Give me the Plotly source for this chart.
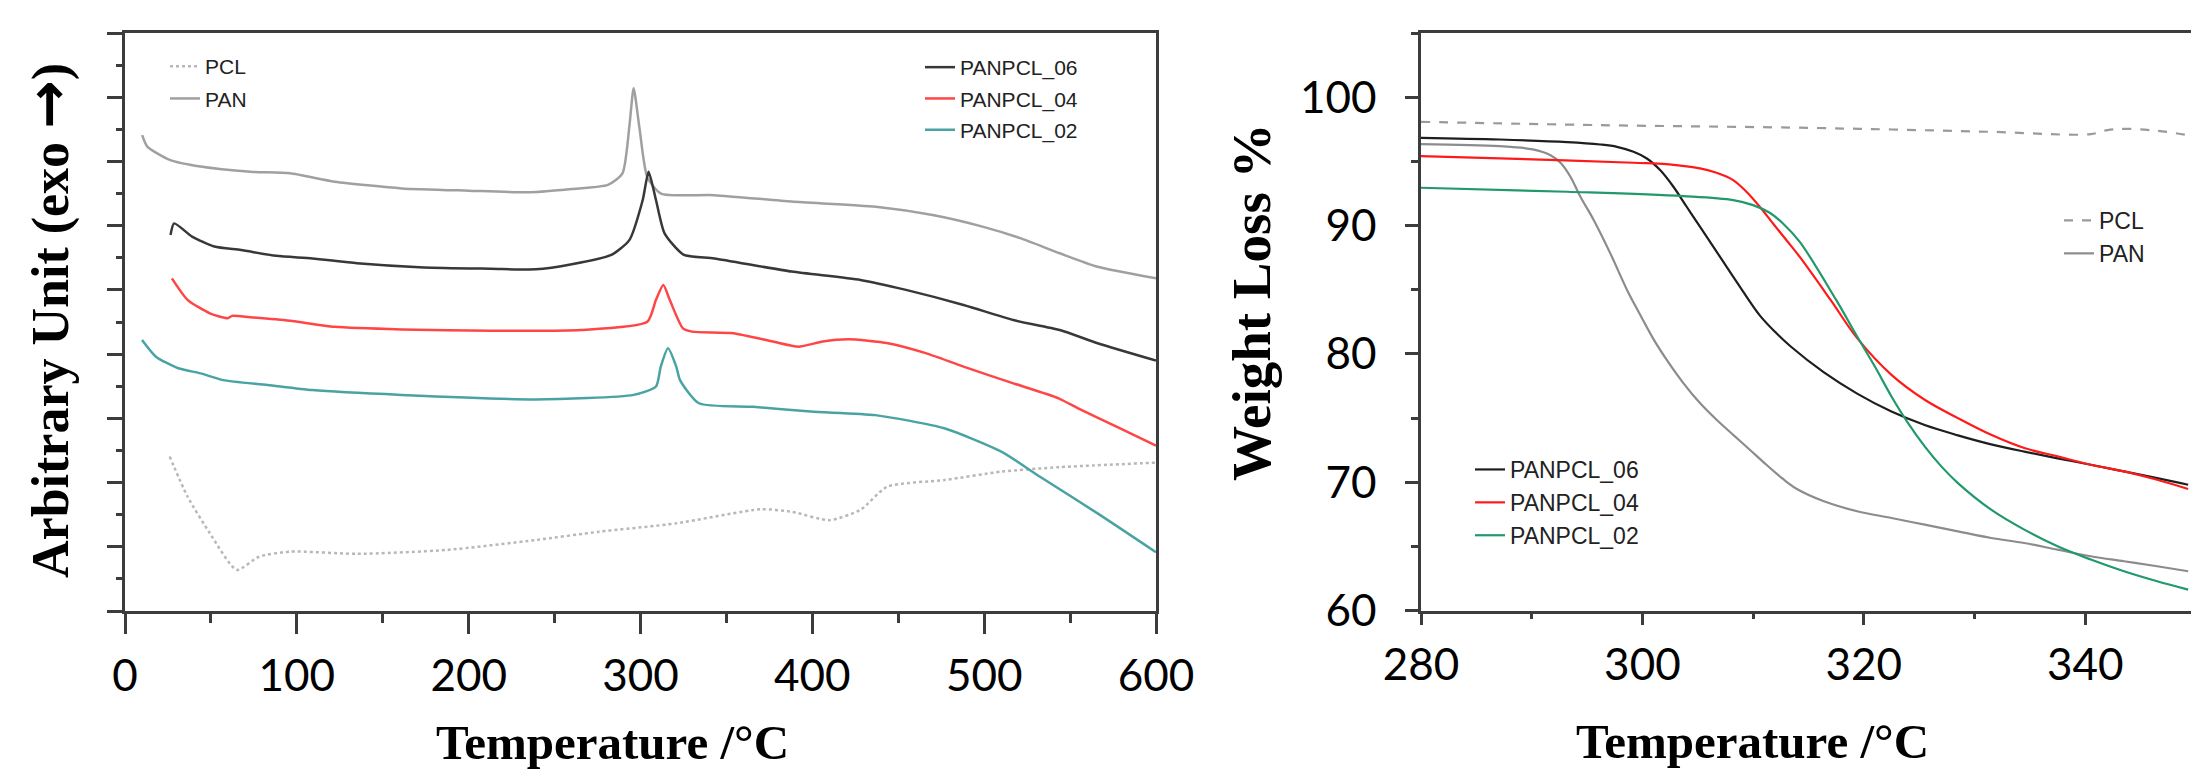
import plotly.graph_objects as go

# ---------------- Left panel (DSC) ----------------
dsc_pan_t = [10, 13, 26, 44, 73, 96, 122, 161, 200, 236, 260, 281, 289.5, 293.5, 296, 299.3, 304, 312, 343, 388, 437, 470, 499, 521, 544, 566, 600]
dsc_pan_v = [14.82, 14.46, 14.05, 13.84, 13.68, 13.63, 13.37, 13.16, 13.09, 13.04, 13.14, 13.27, 13.63, 15.08, 16.28, 15.08, 13.5, 13.0, 12.95, 12.75, 12.59, 12.33, 11.97, 11.61, 11.14, 10.72, 10.36]

dsc_06_t = [26.5, 28.6, 39, 52, 67.5, 88, 109, 135, 174, 213, 239, 260, 283, 293.5, 301.3, 304.7, 309, 314, 325, 343, 388, 428, 454.5, 488, 517, 544, 566, 600]
dsc_06_v = [11.71, 12.07, 11.66, 11.35, 11.24, 11.06, 10.98, 10.83, 10.70, 10.66, 10.64, 10.80, 11.09, 11.55, 12.80, 13.68, 12.80, 11.76, 11.10, 10.98, 10.57, 10.31, 10.0, 9.53, 9.06, 8.75, 8.34, 7.80]

dsc_04_t = [27.3, 36.4, 49.4, 59.8, 62.3, 72.7, 96, 122, 161, 213, 265, 304, 309, 313.3, 317, 324.7, 330, 354, 377, 392, 406, 421, 444, 466, 488, 517, 543, 555, 577, 600]
dsc_04_v = [10.36, 9.69, 9.27, 9.12, 9.19, 9.15, 9.04, 8.85, 8.77, 8.73, 8.75, 9.01, 9.69, 10.15, 9.69, 8.80, 8.70, 8.65, 8.39, 8.23, 8.39, 8.46, 8.34, 8.03, 7.61, 7.09, 6.63, 6.30, 5.74, 5.15]

dsc_02_t = [9.9, 18, 31, 44, 57, 83, 109, 161, 239, 296, 309, 311.8, 316, 320.8, 323, 334, 365.5, 399, 436.7, 476.8, 510, 532.5, 566, 600]
dsc_02_v = [8.44, 7.92, 7.56, 7.40, 7.19, 7.04, 6.88, 6.73, 6.59, 6.73, 6.99, 7.61, 8.18, 7.61, 7.19, 6.47, 6.36, 6.21, 6.10, 5.69, 4.96, 4.18, 3.04, 1.83]

dsc_pcl_t = [26, 36.4, 49.4, 65, 78, 96, 135, 187, 239, 276, 321, 370, 388, 410, 428, 443.5, 477, 510, 544, 600]
dsc_pcl_v = [4.81, 3.56, 2.42, 1.28, 1.69, 1.85, 1.78, 1.90, 2.21, 2.47, 2.73, 3.17, 3.09, 2.83, 3.15, 3.87, 4.08, 4.34, 4.48, 4.62]

# ---------------- Right panel (TGA) ----------------
tga_pcl_t = [280, 296.2, 313.4, 322.5, 331.5, 340.5, 342.0, 343.5, 346.5, 349.3]
tga_pcl_w = [98.08, 97.82, 97.63, 97.48, 97.30, 97.12, 97.43, 97.53, 97.38, 97.04]

tga_pan_t = [280, 287.1, 290.1, 291.7, 292.6, 293.5, 294.4, 295.6, 297.1, 298.6, 299.7, 301.0, 302.2, 303.7, 305.2, 306.7, 308.2, 309.7, 311.2, 312.7, 314.0, 316.4, 319.4, 322.5, 325.5, 328.5, 331.5, 334.5, 337.5, 340.5, 343.5, 346.5, 349.3]
tga_pan_w = [96.34, 96.18, 95.93, 95.48, 94.89, 93.80, 92.24, 90.43, 87.83, 85.0, 83.2, 81.15, 79.53, 77.72, 76.16, 74.86, 73.69, 72.53, 71.36, 70.25, 69.45, 68.51, 67.73, 67.21, 66.69, 66.17, 65.65, 65.26, 64.74, 64.23, 63.84, 63.45, 63.06]

tga_06_t = [280, 287.1, 293.2, 296.2, 297.7, 299.2, 300.4, 301.6, 302.8, 304.0, 305.2, 307.0, 308.8, 310.6, 312.0, 313.4, 316.4, 319.4, 322.5, 325.5, 328.5, 331.5, 334.5, 337.5, 340.5, 343.5, 346.5, 349.3]
tga_06_w = [96.83, 96.70, 96.50, 96.31, 96.13, 95.74, 95.22, 94.32, 93.02, 91.46, 89.91, 87.57, 85.24, 83.0, 81.7, 80.57, 78.55, 76.9, 75.5, 74.45, 73.65, 72.95, 72.38, 71.86, 71.36, 70.84, 70.32, 69.80]

tga_04_t = [280, 290.1, 299.2, 302.2, 305.2, 306.7, 308.2, 309.4, 310.6, 311.8, 313.0, 314.2, 317.0, 319.4, 322.5, 325.5, 328.5, 331.5, 334.5, 337.5, 340.5, 343.5, 346.5, 349.3]
tga_04_w = [95.41, 95.15, 94.89, 94.79, 94.45, 94.11, 93.54, 92.63, 91.46, 90.16, 88.87, 87.57, 84.2, 81.22, 78.36, 76.42, 74.99, 73.69, 72.66, 72.01, 71.36, 70.84, 70.19, 69.47]

tga_02_t = [280, 293.2, 303.7, 308.2, 310.0, 311.5, 312.7, 314.2, 317.5, 319.4, 321.0, 322.5, 324.0, 325.5, 327.0, 328.5, 331.5, 334.5, 337.5, 340.5, 343.5, 346.5, 349.3]
tga_02_w = [92.94, 92.63, 92.29, 91.98, 91.59, 90.99, 90.16, 88.74, 84.2, 81.35, 79.01, 76.68, 74.6, 72.79, 71.23, 69.93, 67.86, 66.3, 65.0, 63.97, 63.06, 62.28, 61.63]

W, H = 2191, 771
LEG_FONT = "Liberation Sans, Arial, sans-serif"
TICK_FONT = "Lato, sans-serif"
TITLE_FONT = "Liberation Serif, Times New Roman, serif"

fig = go.Figure()

def add(x, y, name, color, width, dash, xa, ya, legend, smooth, group=None):
    fig.add_trace(go.Scatter(
        x=x, y=y, name=name, mode="lines",
        line=dict(color=color, width=width, dash=dash, shape="spline", smoothing=smooth),
        xaxis=xa, yaxis=ya, legend=legend,
        legendgroup=group, hoverinfo="skip"))

# left panel traces
add(dsc_pcl_t, dsc_pcl_v, "PCL", "#b8b8b8", 2.5, "dot", "x", "y", "legend", 0.6, "a1")
add(dsc_pan_t, dsc_pan_v, "PAN", "#a0a0a0", 2.5, "solid", "x", "y", "legend", 0.6, "a2")
add(dsc_06_t, dsc_06_v, "PANPCL_06", "#383838", 2.5, "solid", "x", "y", "legend2", 0.6, "b1")
add(dsc_04_t, dsc_04_v, "PANPCL_04", "#ff4646", 2.5, "solid", "x", "y", "legend2", 0.6, "b2")
add(dsc_02_t, dsc_02_v, "PANPCL_02", "#4aa3a3", 2.5, "solid", "x", "y", "legend2", 0.6, "b3")

# right panel traces
add(tga_pcl_t, tga_pcl_w, "PCL", "#9a9a9a", 2.2, "dash", "x2", "y2", "legend3", 1.0)
add(tga_pan_t, tga_pan_w, "PAN", "#8c8c8c", 2.2, "solid", "x2", "y2", "legend3", 1.0)
add(tga_06_t, tga_06_w, "PANPCL_06", "#1e1e1e", 2.2, "solid", "x2", "y2", "legend4", 1.0)
add(tga_04_t, tga_04_w, "PANPCL_04", "#ff1a1a", 2.2, "solid", "x2", "y2", "legend4", 1.0)
add(tga_02_t, tga_02_w, "PANPCL_02", "#22996a", 2.2, "solid", "x2", "y2", "legend4", 1.0)

axcol = "#3c3c3c"
common = dict(showgrid=False, zeroline=False, showline=True, linecolor=axcol, linewidth=2.5,
              ticks="outside", tickcolor=axcol, tickwidth=2.5, automargin=False,
              tickfont=dict(family=TICK_FONT, size=44, color="#000"))

fig.update_layout(
    width=W, height=H, margin=dict(l=0, r=0, t=0, b=0, pad=0, autoexpand=False),
    paper_bgcolor="white", plot_bgcolor="white",
    xaxis=dict(domain=[125 / W, 1156 / W], range=[0, 600], tick0=0, dtick=100, ticklen=20,
               mirror=True, anchor="y", ticklabelstandoff=4,
               minor=dict(dtick=50, ticklen=9, tickwidth=2.5, tickcolor=axcol, ticks="outside"),
               **common),
    yaxis=dict(domain=[1 - 611 / H, 1 - 33 / H], range=[0, 18], tick0=0, dtick=2, ticklen=15,
               showticklabels=False, mirror=True, anchor="x",
               minor=dict(dtick=1, ticklen=6, tickwidth=2.5, tickcolor=axcol, ticks="outside"),
               **common),
    xaxis2=dict(domain=[1421 / W, 1.0], range=[280, 280 + (W - 1421) / 11.07], tick0=280, dtick=20,
                ticklen=12, mirror=True, anchor="y2", ticklabelstandoff=2,
                minor=dict(dtick=10, ticklen=6, tickwidth=2.5, tickcolor=axcol, ticks="outside"),
                **common),
    yaxis2=dict(domain=[1 - 610.5 / H, 1 - 33 / H], range=[60, 105], tick0=60, dtick=10,
                ticklen=13, mirror=False, anchor="x2", ticklabelstandoff=20,
                minor=dict(dtick=5, ticklen=7, tickwidth=2.5, tickcolor=axcol, ticks="outside"),
                **common),
    legend=dict(x=165 / W, y=1 - 46 / H, xanchor="left", yanchor="top", bgcolor="rgba(0,0,0,0)",
                font=dict(family=LEG_FONT, size=21, color="#222"), tracegroupgap=2,
                traceorder="grouped"),
    legend2=dict(x=920 / W, y=1 - 47 / H, xanchor="left", yanchor="top", bgcolor="rgba(0,0,0,0)",
                 font=dict(family=LEG_FONT, size=21, color="#222"), tracegroupgap=1,
                 traceorder="grouped"),
    legend3=dict(x=2059 / W, y=1 - 199 / H, xanchor="left", yanchor="top", bgcolor="rgba(0,0,0,0)",
                 font=dict(family=LEG_FONT, size=23, color="#222")),
    legend4=dict(x=1470 / W, y=1 - 448 / H, xanchor="left", yanchor="top", bgcolor="rgba(0,0,0,0)",
                 font=dict(family=LEG_FONT, size=23, color="#222")),
)

title_font = dict(family=TITLE_FONT, size=49, color="#000")
fig.add_annotation(text="<b>Temperature /°C</b>", xref="paper", yref="paper", x=612 / W, y=1 - 742 / H,
                   showarrow=False, font=title_font, xanchor="center", yanchor="middle")
fig.add_annotation(text="<b>Temperature /°C</b>", xref="paper", yref="paper", x=1752 / W, y=1 - 741 / H,
                   showarrow=False, font=title_font, xanchor="center", yanchor="middle")
fig.add_annotation(text="<b>Arbitrary Unit (exo <span style='font-family:DejaVu Sans;font-size:58px'>→</span>)</b>",
                   xref="paper", yref="paper", x=48 / W, y=1 - 321 / H,
                   showarrow=False, font=dict(family=TITLE_FONT, size=52, color="#000"), textangle=-90,
                   xanchor="center", yanchor="middle")
fig.add_annotation(text="<b>Weight Loss %</b>", xref="paper", yref="paper", x=1252 / W, y=1 - 302 / H,
                   showarrow=False, font=dict(family=TITLE_FONT, size=55, color="#000"), textangle=-90,
                   xanchor="center", yanchor="middle")

fig.write_html("out.html", config={"displayModeBar": False},
               post_script="document.body.style.margin='0';document.body.style.overflow='hidden';")
